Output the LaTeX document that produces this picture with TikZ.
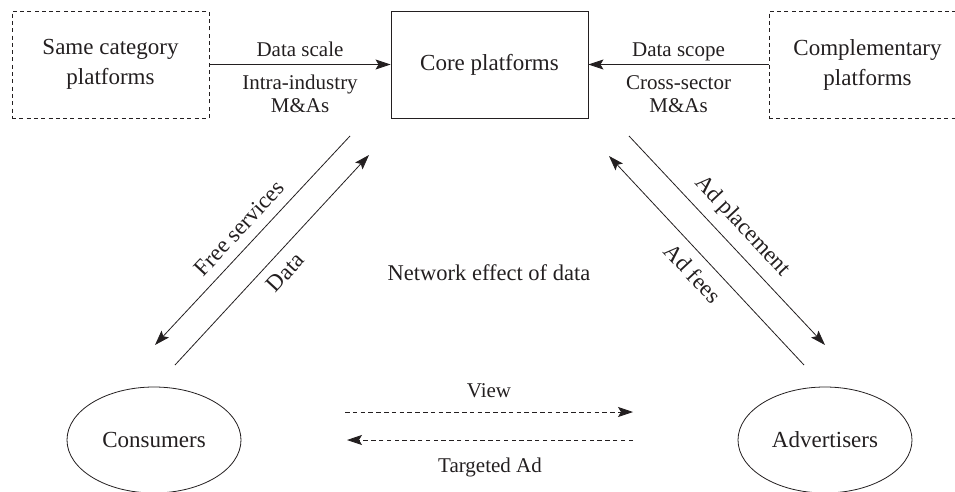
\documentclass[tikz,border=0pt]{standalone}
\usepackage{fontspec}
\setmainfont{Liberation Serif}
\newfontfamily\tnr{Liberation Serif}
\usetikzlibrary{arrows.meta,shapes.geometric}
\definecolor{ink}{HTML}{231F20}
\tikzset{
  every node/.style={text=ink},
  mainfont/.style={font=\tnr\fontsize{23}{30}\selectfont},
  labfont/.style={font=\tnr\fontsize{21}{23.5}\selectfont},
  platbox/.style={draw=ink, line width=0.9pt, minimum width=197pt, minimum height=107pt,
    align=center, inner sep=0pt, mainfont},
  dashbox/.style={platbox, dash pattern=on 4pt off 3.3pt},
  party/.style={ellipse, draw=ink, line width=0.8pt, minimum width=174pt,
    minimum height=106pt, inner sep=0pt, mainfont},
  arr/.style={draw=ink, line width=0.8pt, -{Stealth[length=15pt,width=10pt,inset=3pt]}},
  darr/.style={arr, dash pattern=on 4.5pt off 3.3pt},
  slab/.style={midway, sloped, mainfont, inner sep=10pt},
}
\begin{document}
\begin{tikzpicture}[x=1pt,y=-1pt]
\useasboundingbox (0,0) rectangle (955,492);
\clip (0,0) rectangle (955,492);

% platforms
\node[dashbox] (same) at (110.5,64.5) {Same category\\platforms};
\node[platbox] (core) at (489.5,64.5) {Core platforms};
\node[dashbox] (comp) at (867.5,64.5) {Complementary\\platforms};

% market sides
\node[party] (cons) at (154,440) {Consumers};
\node[party] (adv) at (825,440) {Advertisers};

\node[font=\tnr\fontsize{22.5}{27}\selectfont, anchor=base] (net) at (489,280) {Network effect of data};

% mergers feeding the core platform
\draw[arr] (same) -- (core)
  node[midway, anchor=base, yshift=8pt, labfont] (scale) {Data scale}
  node[midway, anchor=base, yshift=-48.5pt, labfont, align=center] (intra) {Intra-industry\\M\&As};
\draw[arr] (comp) -- (core)
  node[midway, anchor=base, yshift=8pt, labfont] (scope) {Data scope}
  node[midway, anchor=base, yshift=-48.5pt, labfont, align=center] (cross) {Cross-sector\\M\&As};

% consumer side
\coordinate (fsA) at (350,136);
\coordinate (fsB) at (155,345);
\coordinate (dA) at (175,365);
\coordinate (dB) at (369,155);
\draw[arr] (fsA) -- (fsB) node[slab, above] (free) {Free services};
\draw[arr] (dA) -- (dB) node[slab, below] (data) {Data};

% advertiser side
\coordinate (apA) at (629,136);
\coordinate (apB) at (825,345);
\coordinate (afA) at (804,365);
\coordinate (afB) at (609,156);
\draw[arr] (apA) -- (apB) node[slab, above] (place) {Ad placement};
\draw[arr] (afA) -- (afB) node[slab, below] (fees) {Ad fees};

% indirect exchange between the two sides
\coordinate (vA) at (345,412);
\coordinate (vB) at (633,412);
\coordinate (tA) at (633,440);
\coordinate (tB) at (347,440);
\draw[darr] (vA) -- (vB) node[midway, anchor=base, yshift=15pt, labfont] (view) {View};
\draw[darr] (tA) -- (tB) node[midway, anchor=base, yshift=-32pt, labfont] (target) {Targeted Ad};
\end{tikzpicture}
\end{document}
